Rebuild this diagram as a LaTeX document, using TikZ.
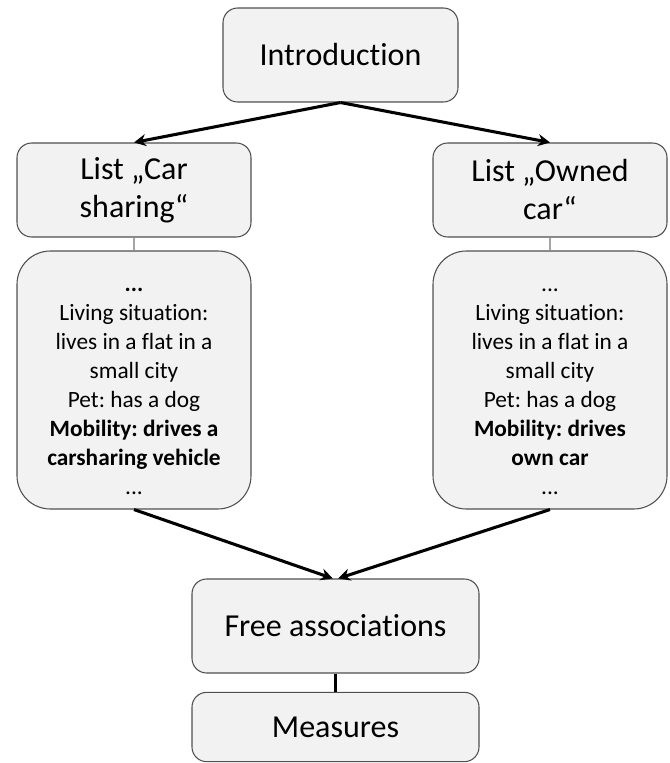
\documentclass[tikz,border=0pt]{standalone}
\usepackage{fontspec}
\setmainfont[Ligatures={NoCommon}]{Carlito}
\usetikzlibrary{arrows.meta}
\frenchspacing
\definecolor{boxfill}{HTML}{F2F2F2}
\definecolor{boxline}{HTML}{505050}
\tikzset{
  box/.style={draw=boxline, fill=boxfill, line width=0.8pt, rounded corners=11pt, align=center, inner sep=2pt},
  bigtext/.style={font=\fontsize{24}{28.5}\selectfont},
  smalltext/.style={font=\fontsize{17.5}{21.75}\selectfont},
  arr/.style={line width=2.3pt, -{Stealth[length=9pt,width=9pt]}},
  thin/.style={draw=gray!70, line width=0.8pt}
}
\begin{document}
\frenchspacing
\begin{tikzpicture}[x=0.75pt,y=-0.75pt]
\useasboundingbox (0,0) rectangle (669,763);
\node[box,bigtext,minimum width=176.25pt,minimum height=70.5pt] (intro) at (340.5,55) {Introduction};
\node[box,bigtext,minimum width=175.5pt,minimum height=70.5pt] (llist) at (134,190) {List „Car\\sharing“};
\node[box,bigtext,minimum width=175.5pt,minimum height=70.5pt] (rlist) at (550,190) {List „Owned\\car“};
\node[box,smalltext,rounded corners=25pt,minimum width=175.5pt,minimum height=193.5pt] (ldet) at (134,380)
  {\rule{0pt}{20pt}\textbf{...}\\Living situation:\\lives in a flat in a\\small city\\Pet: has a dog\\\textbf{Mobility: drives a}\\\textbf{carsharing vehicle}\\...};
\node[box,smalltext,rounded corners=25pt,minimum width=175.5pt,minimum height=193.5pt] (rdet) at (550,380)
  {\rule{0pt}{20pt}...\\Living situation:\\lives in a flat in a\\small city\\Pet: has a dog\\\textbf{Mobility: drives}\\\textbf{own car}\\...};
\node[box,bigtext,minimum width=215.25pt,minimum height=70.5pt] (free) at (335.5,626) {Free associations};
\node[box,bigtext,minimum width=215.25pt,minimum height=52pt] (meas) at (335.5,727) {Measures};
\draw[arr] (intro.south) -- (llist.north);
\draw[arr] (intro.south) -- (rlist.north);
\draw[thin] (llist.south) -- (ldet.north);
\draw[thin] (rlist.south) -- (rdet.north);
\draw[arr] (ldet.south) -- ([xshift=-2pt]free.north);
\draw[arr] (rdet.south) -- ([xshift=2pt]free.north);
\draw[line width=2.3pt] (free.south) -- (meas.north);
\end{tikzpicture}
\end{document}
